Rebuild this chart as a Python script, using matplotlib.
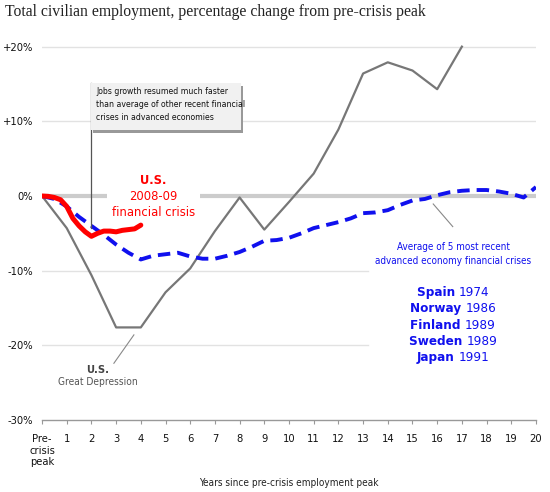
import matplotlib
matplotlib.use("Agg")
import matplotlib.pyplot as plt
from matplotlib.patches import Rectangle
from matplotlib.transforms import offset_copy

plt.rcParams['font.stretch'] = 'condensed'
NARROW = ['DejaVu Sans']
SERIF = ['Liberation Serif', 'DejaVu Serif']

# Data
gd_years = list(range(18))
gd_vals = [0, -4.3, -10.6, -17.6, -17.6, -12.9, -9.7, -4.7, -0.2, -4.5, -0.8,
           3.0, 8.9, 16.4, 17.9, 16.8, 14.3, 20.0]

avg_years = [i * 0.5 for i in range(41)]
avg_vals = [0, -0.4, -1.4, -2.8, -4.0, -5.2, -6.5, -7.6, -8.5, -8.0, -7.8, -7.6,
            -8.1, -8.4, -8.4, -8.0, -7.5, -6.8, -6.0, -5.9, -5.6, -5.0, -4.3,
            -3.9, -3.5, -3.0, -2.3, -2.2, -1.9, -1.2, -0.6, -0.4, 0.1, 0.5,
            0.7, 0.8, 0.8, 0.6, 0.3, -0.2, 1.2]

us_years = [i * 0.25 for i in range(17)]
us_vals = [0, -0.05, -0.2, -0.5, -1.4, -3.0, -4.0, -4.8, -5.4, -5.0, -4.7,
           -4.7, -4.8, -4.6, -4.5, -4.4, -3.9]

yticks = [20, 10, 0, -10, -20, -30]
ytick_labels = ['+20%', '+10%', '0%', '-10%', '-20%', '-30%']
xticks = list(range(21))
xtick_labels = ['Pre-\ncrisis\npeak'] + [str(i) for i in range(1, 21)]

countries = ['Spain', 'Norway', 'Finland', 'Sweden', 'Japan']
country_years = ['1974', '1986', '1989', '1989', '1991']

fig = plt.figure(figsize=(5.5, 4.92), dpi=100)
ax = fig.add_axes([0.0764, 0.1463, 0.8981, 0.7665])
ax.set_xlim(0, 20)
ax.set_ylim(-30, 20.5)

# gridlines
ax.plot([0, 20], [20, 20], color='#e2e2e2', lw=1, zorder=1)
ax.plot([0, 20], [10, 10], color='#e2e2e2', lw=1, zorder=1)
ax.plot([0, 13.2], [-10, -10], color='#e2e2e2', lw=1, zorder=1)
ax.plot([0, 13.2], [-20, -20], color='#e2e2e2', lw=1, zorder=1)
ax.plot([0, 2.63], [0, 0], color='#cccccc', lw=3, zorder=1, solid_capstyle='butt')
ax.plot([6.4, 20], [0, 0], color='#cccccc', lw=3, zorder=1, solid_capstyle='butt')

# series
ax.plot(gd_years, gd_vals, color='#777777', lw=1.6, zorder=3)
ax.plot(avg_years, avg_vals, color='#1010ee', lw=2.8, dashes=(3.2, 1.8), zorder=4)
ax.plot(us_years, us_vals, color='#ff0000', lw=3.6, zorder=5, solid_capstyle='round')

# spines / ticks
for s in ['top', 'right', 'left']:
    ax.spines[s].set_visible(False)
ax.spines['bottom'].set_color('#999999')
ax.spines['bottom'].set_linewidth(1)
ax.set_xticks(xticks)
ax.set_xticklabels(xtick_labels, family=NARROW, fontsize=8, linespacing=1.2,
                   va='top', color='#111111')
ax.set_yticks(yticks)
ax.set_yticklabels(ytick_labels, family=NARROW, fontsize=8, color='#111111')
ax.tick_params(axis='x', length=3, color='#999999', pad=7)
ax.tick_params(axis='y', length=0, pad=6.5)
ax.set_xlabel('Years since pre-crisis employment peak', family=NARROW, fontsize=7.2,
              color='#222222')
ax.xaxis.set_label_coords(0.5, -0.155)

# title
fig.text(0.009, 0.976, 'Total civilian employment, percentage change from pre-crisis peak',
         family=SERIF, fontsize=11.3, va='center', ha='left', color='#222222')

# annotation box
bx0, by0 = 2.0, 8.9
bw, bh = 6.07, 6.25
ax.add_patch(Rectangle((bx0 + 0.06, by0 - 0.4), bw, bh, facecolor='#999999',
                       edgecolor='none', zorder=6))
ax.add_patch(Rectangle((bx0, by0), bw, bh, facecolor='#f1f1f1',
                       edgecolor='none', zorder=7))
ax.text(bx0 + 0.2, by0 + bh - 0.6,
        'Jobs growth resumed much faster\nthan average of other recent financial\ncrises in advanced economies',
        family=NARROW, fontsize=6.2, va='top', ha='left', linespacing=1.55, zorder=8,
        color='#111111')
ax.plot([2.0, 2.0], [by0 + bh, -4.3], color='#555555', lw=0.9, zorder=6)

# US 2008-09 label
ax.text(4.5, 2.1, 'U.S.', color='#ff0000', fontsize=9.3, fontweight='bold',
        family=NARROW, ha='center', va='center', zorder=8)
ax.text(4.5, -0.05, '2008-09', color='#ff0000', fontsize=9.3,
        family=NARROW, ha='center', va='center', zorder=8)
ax.text(4.5, -2.2, 'financial crisis', color='#ff0000', fontsize=9.3,
        family=NARROW, ha='center', va='center', zorder=8)

# Great Depression label
ax.plot([2.91, 3.72], [-22.4, -18.6], color='#888888', lw=0.8, zorder=3)
ax.text(2.27, -23.3, 'U.S.', color='#444444', fontsize=8, fontweight='bold',
        family=NARROW, ha='center', va='center')
ax.text(2.27, -24.9, 'Great Depression', color='#555555', fontsize=7.3,
        family=NARROW, ha='center', va='center')

# Average label
ax.plot([15.84, 16.63], [-1.07, -4.1], color='#888888', lw=0.8, zorder=3)
ax.text(16.65, -6.8, 'Average of 5 most recent', color='#1010ee', fontsize=7.1,
        family=NARROW, ha='center', va='center')
ax.text(16.65, -8.7, 'advanced economy financial crises', color='#1010ee', fontsize=7.1,
        family=NARROW, ha='center', va='center')

# country list: each line centred as a whole
cy = [-12.9, -15.1, -17.3, -19.5, -21.6]
renderer = fig.canvas.get_renderer()
for name, yr, y in zip(countries, country_years, cy):
    t1 = ax.text(16.65, y, name + ' ', ha='left', va='center',
                 color='#1010ee', fontsize=9.6, fontweight='bold', family=NARROW)
    t2 = ax.text(16.65, y, yr, ha='left', va='center', color='#1010ee',
                 fontsize=9.6, family=NARROW)
    w1 = t1.get_window_extent(renderer).width
    w2 = t2.get_window_extent(renderer).width
    total = w1 + w2
    t1.set_transform(offset_copy(ax.transData, fig=fig, x=-total / 2, y=0, units='dots'))
    t2.set_transform(offset_copy(ax.transData, fig=fig, x=-total / 2 + w1, y=0, units='dots'))

fig.savefig('out.png', dpi=100)
